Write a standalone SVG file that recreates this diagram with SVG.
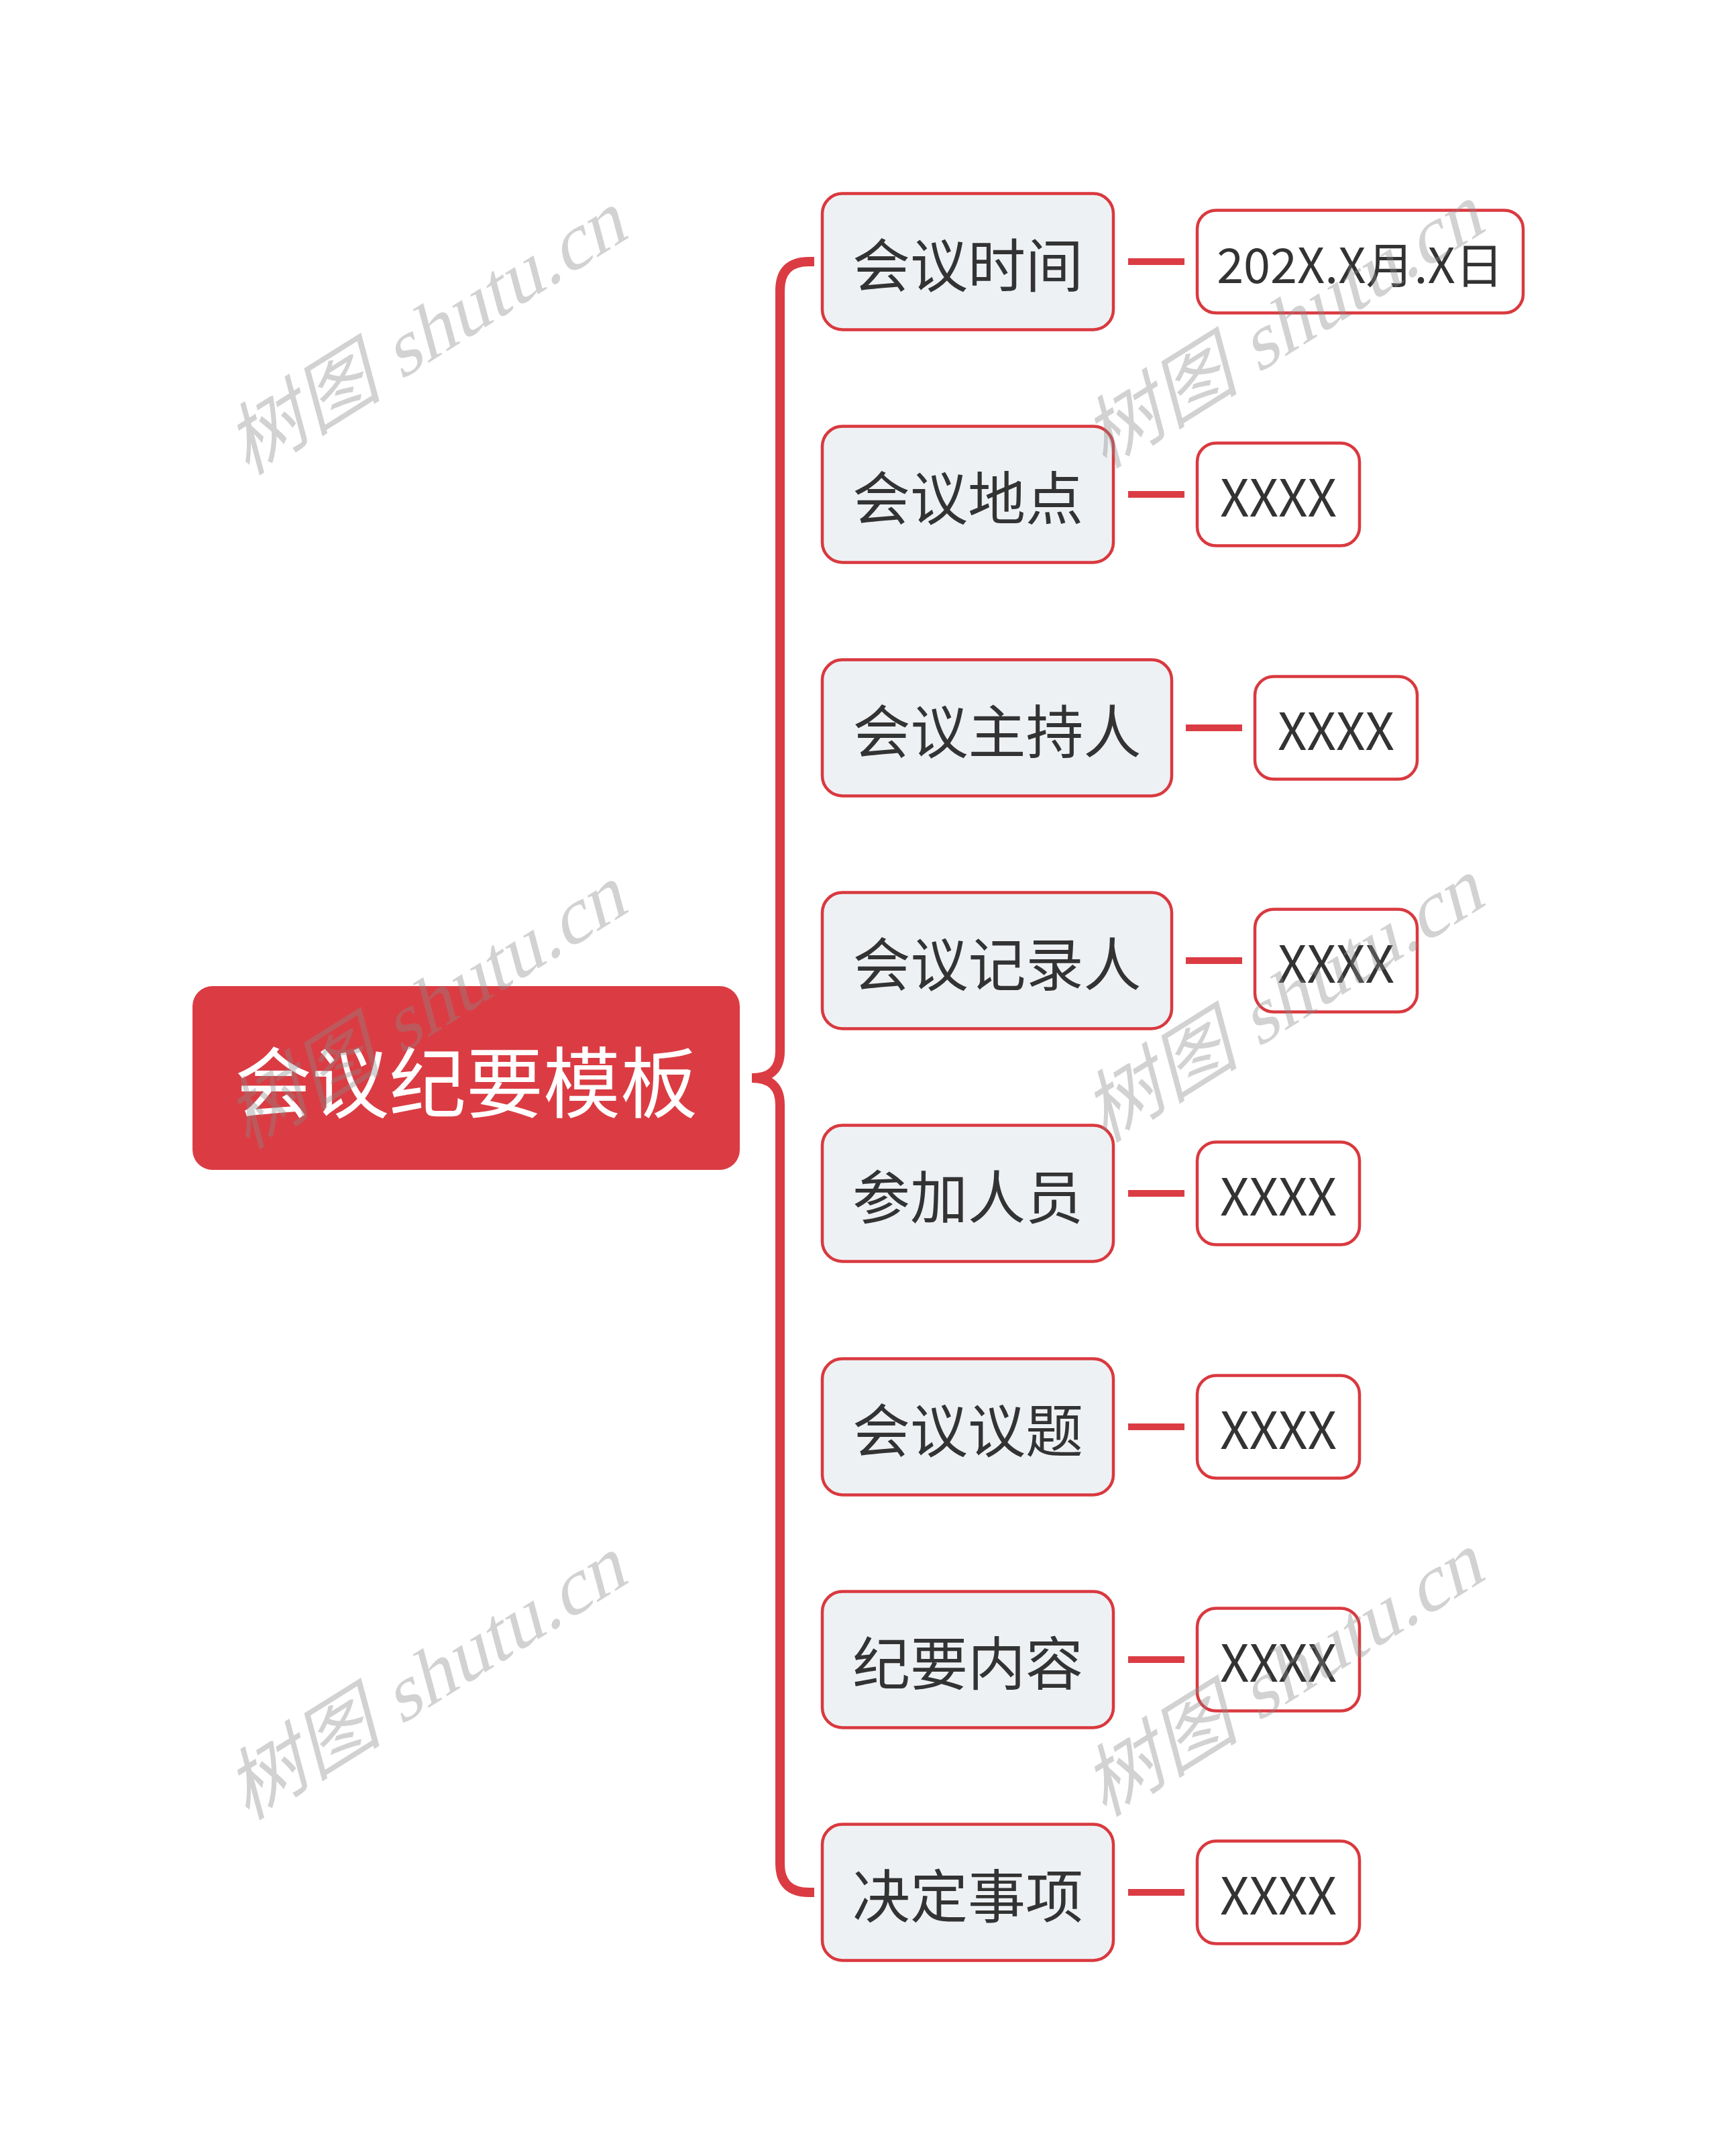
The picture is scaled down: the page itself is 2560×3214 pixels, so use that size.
<svg xmlns="http://www.w3.org/2000/svg" width="2560" height="3214" viewBox="0 0 2560 3214">
<style>
.t{font-family:"Noto Sans CJK SC","Noto Sans",sans-serif;text-anchor:middle;dominant-baseline:central;}
.root rect{fill:#DB3C43;}
.root text{fill:#FFFFFF;font-size:115px;}
.child rect{fill:#EEF1F4;stroke:#D9393F;stroke-width:4.5;}
.child text{fill:#333333;font-size:86px;}
.leaf rect{fill:#FFFFFF;stroke:#D9393F;stroke-width:4.5;}
.leaf text{fill:#333333;font-size:76px;}
.conn{fill:none;stroke:#DB3C43;stroke-width:10;}
.brace{fill:none;stroke:#DB3C43;stroke-width:14;stroke-miterlimit:10;}
.wm{font-family:"Liberation Serif","Noto Sans CJK SC",serif;font-size:120px;fill:#8A8A8A;fill-opacity:0.38;}
</style>
<rect width="2560" height="3214" fill="#FFFFFF"/>
<g id="connectors">
<path class="brace" d="M1214,390 H1206 Q1163,390 1163,433 V1567 Q1163,1607 1121,1607 Q1163,1607 1163,1647 V2778 Q1163,2821 1206,2821 H1214"/>
<path class="conn" d="M1682,390 H1766"/>
<path class="conn" d="M1682,737 H1766"/>
<path class="conn" d="M1768,1085 H1852"/>
<path class="conn" d="M1768,1432 H1852"/>
<path class="conn" d="M1682,1779 H1766"/>
<path class="conn" d="M1682,2127 H1766"/>
<path class="conn" d="M1682,2474 H1766"/>
<path class="conn" d="M1682,2821 H1766"/>
</g>
<g id="root" class="root"><rect x="287" y="1470" width="816" height="274" rx="30"/><text class="t" x="695" y="1607">会议纪要模板</text></g>
<g id="c1" class="child"><rect x="1226" y="288.5" width="434" height="203" rx="30"/><text class="t" x="1443" y="390">会议时间</text></g>
<g id="c2" class="child"><rect x="1226" y="635.5" width="434" height="203" rx="30"/><text class="t" x="1443" y="737">会议地点</text></g>
<g id="c3" class="child"><rect x="1226" y="983.5" width="521" height="203" rx="30"/><text class="t" x="1486.5" y="1085">会议主持人</text></g>
<g id="c4" class="child"><rect x="1226" y="1330.5" width="521" height="203" rx="30"/><text class="t" x="1486.5" y="1432">会议记录人</text></g>
<g id="c5" class="child"><rect x="1226" y="1677.5" width="434" height="203" rx="30"/><text class="t" x="1443" y="1779">参加人员</text></g>
<g id="c6" class="child"><rect x="1226" y="2025.5" width="434" height="203" rx="30"/><text class="t" x="1443" y="2127">会议议题</text></g>
<g id="c7" class="child"><rect x="1226" y="2372.5" width="434" height="203" rx="30"/><text class="t" x="1443" y="2474">纪要内容</text></g>
<g id="c8" class="child"><rect x="1226" y="2719.5" width="434" height="203" rx="30"/><text class="t" x="1443" y="2821">决定事项</text></g>
<g id="l1" class="leaf"><rect x="1785" y="313.5" width="486" height="153" rx="28"/><text class="t" x="2028" y="390" style="font-size:72px">202X.X月.X日</text></g>
<g id="l2" class="leaf"><rect x="1785" y="660.5" width="242" height="153" rx="28"/><text class="t" x="1906" y="737">XXXX</text></g>
<g id="l3" class="leaf"><rect x="1871" y="1008.5" width="242" height="153" rx="28"/><text class="t" x="1992" y="1085">XXXX</text></g>
<g id="l4" class="leaf"><rect x="1871" y="1355.5" width="242" height="153" rx="28"/><text class="t" x="1992" y="1432">XXXX</text></g>
<g id="l5" class="leaf"><rect x="1785" y="1702.5" width="242" height="153" rx="28"/><text class="t" x="1906" y="1779">XXXX</text></g>
<g id="l6" class="leaf"><rect x="1785" y="2050.5" width="242" height="153" rx="28"/><text class="t" x="1906" y="2127">XXXX</text></g>
<g id="l7" class="leaf"><rect x="1785" y="2397.5" width="242" height="153" rx="28"/><text class="t" x="1906" y="2474">XXXX</text></g>
<g id="l8" class="leaf"><rect x="1785" y="2744.5" width="242" height="153" rx="28"/><text class="t" x="1906" y="2821">XXXX</text></g>
<g id="watermarks">
<text class="wm" transform="matrix(0.848,-0.53,0.26,0.966,368,710)">树图 shutu.cn</text>
<text class="wm" transform="matrix(0.848,-0.53,0.26,0.966,1646,700)">树图 shutu.cn</text>
<text class="wm" transform="matrix(0.848,-0.53,0.26,0.966,368,1715)">树图 shutu.cn</text>
<text class="wm" transform="matrix(0.848,-0.53,0.26,0.966,1646,1705)">树图 shutu.cn</text>
<text class="wm" transform="matrix(0.848,-0.53,0.26,0.966,368,2715)">树图 shutu.cn</text>
<text class="wm" transform="matrix(0.848,-0.53,0.26,0.966,1646,2710)">树图 shutu.cn</text>
</g>
</svg>
